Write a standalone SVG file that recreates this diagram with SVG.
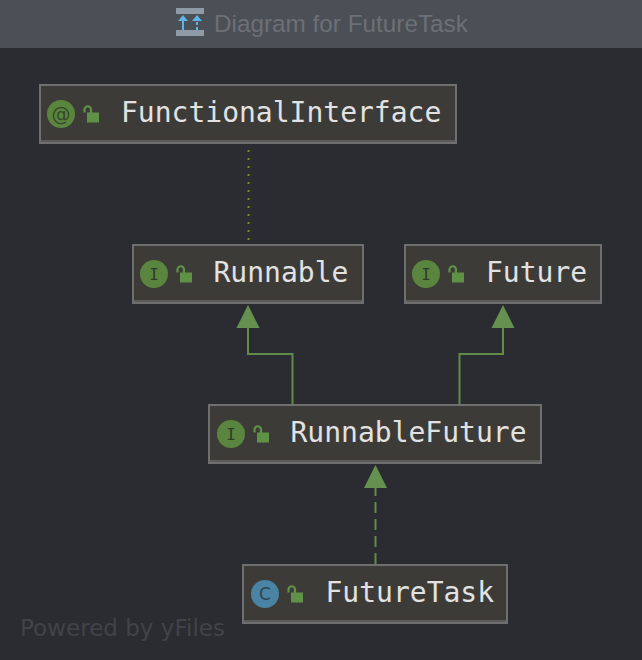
<svg xmlns="http://www.w3.org/2000/svg" width="642" height="660" viewBox="0 0 642 660">
<style>
.box{fill:#3d3b37;stroke:#6f6f6f;stroke-width:2}
.base{fill:none;stroke:#5c5c5a;stroke-width:2}
.name{font-family:"DejaVu Sans Mono",monospace;font-size:28px;fill:#e2e2e2}
.g{font-family:"DejaVu Sans Mono",monospace;font-size:16px;fill:#2f3a2a;text-anchor:middle}
.edge{fill:none;stroke:#5f8c4a;stroke-width:2}
.head{fill:#659150}
.lockb{fill:#5f9146}
.locks{fill:none;stroke:#5f9146;stroke-width:2.200}
</style>
<defs>
<g id="lock"><rect x="5" y="7.500" width="12" height="10" class="lockb"/><path d="M2.500 7.500 V4.500 A3.250 3.250 0 0 1 9 4.500 V8" class="locks"/></g>
</defs>
<rect width="642" height="660" fill="#2a2c31"/>
<g id="titlebar">
<rect width="642" height="48" fill="#4b4f56"/>
<rect x="176" y="8" width="28" height="6" fill="#8e9aa5"/>
<rect x="176" y="30" width="28" height="6" fill="#8e9aa5"/>
<path d="M183 30V19M197 30v-3M197 25v-3" fill="none" stroke="#5db4e6" stroke-width="2"/>
<path d="M178 21l5-6 5 6zM192 21l5-6 5 6z" fill="#5db4e6"/>
<text x="214" y="32" font-family="'Liberation Sans',Arial,sans-serif" font-size="24.300" fill="#6d7075">Diagram for FutureTask</text>
</g>
<g id="connectors">
<path d="M248.500 150V243" fill="none" stroke="#7c8a1e" stroke-width="2" stroke-dasharray="2 6"/>
<path class="edge" d="M292.500 404V354H248V326"/>
<path class="head" d="M248 305L236.500 328H259.500Z"/>
<path class="edge" d="M459.500 404V354H503V326"/>
<path class="head" d="M503 305L491.500 328H514.500Z"/>
<path class="edge" d="M375.500 564V487" stroke-dasharray="11 6"/>
<path class="head" d="M375.500 465L364 488H387Z"/>
</g>
<g id="FunctionalInterface">
<rect class="box" x="40" y="85" width="416" height="58"/><path class="base" d="M41 141H455"/>
<circle cx="61" cy="114" r="14" fill="#5a853e"/><text class="g" x="61" y="121" style="font-family:'DejaVu Sans',sans-serif;font-size:19px;fill:#35482a">@</text>
<use href="#lock" x="82" y="105"/>
<text class="name" x="121" y="122">FunctionalInterface</text>
</g>
<g id="Runnable">
<rect class="box" x="133" y="245" width="230" height="58"/><path class="base" d="M134 301H362"/>
<circle cx="154" cy="274" r="14" fill="#5a853e"/><text class="g" x="154" y="280">I</text>
<use href="#lock" x="175" y="265"/>
<text class="name" x="213.500" y="282">Runnable</text>
</g>
<g id="Future">
<rect class="box" x="405" y="245" width="196" height="58"/><path class="base" d="M406 301H600"/>
<circle cx="426" cy="274" r="14" fill="#5a853e"/><text class="g" x="426" y="280">I</text>
<use href="#lock" x="447" y="265"/>
<text class="name" x="486" y="282">Future</text>
</g>
<g id="RunnableFuture">
<rect class="box" x="209" y="405" width="332" height="58"/><path class="base" d="M210 461H540"/>
<circle cx="231" cy="434" r="14" fill="#5a853e"/><text class="g" x="231" y="440">I</text>
<use href="#lock" x="252" y="425"/>
<text class="name" x="290.500" y="442">RunnableFuture</text>
</g>
<g id="FutureTask">
<rect class="box" x="243" y="565" width="264" height="58"/><path class="base" d="M244 621H506"/>
<circle cx="265" cy="594" r="14" fill="#4a83a3"/><text class="g" x="265" y="600" style="font-family:'DejaVu Sans',sans-serif;font-size:17px;fill:#2c4656">C</text>
<use href="#lock" x="286" y="585"/>
<text class="name" x="325.500" y="602">FutureTask</text>
</g>
<text x="20" y="636" font-family="'DejaVu Sans',sans-serif" font-size="23" fill="#424347" textLength="205">Powered by yFiles</text>
</svg>
